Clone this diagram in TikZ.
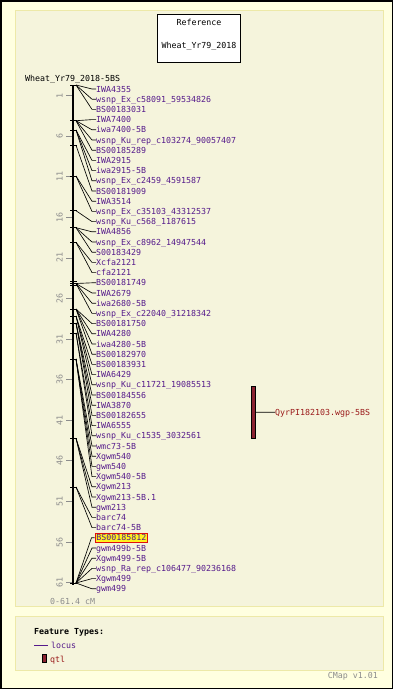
\documentclass[tikz,border=0pt]{standalone}
\usepackage{fontspec}
\newfontfamily\mono{DejaVu Sans Mono}
\definecolor{bgout}{HTML}{FFFFE0}
\definecolor{bgpanel}{HTML}{F5F4DC}
\definecolor{panelline}{HTML}{EDE9A8}
\definecolor{locuscol}{HTML}{551A8B}
\definecolor{qtlcol}{HTML}{8B2332}
\definecolor{qtltext}{HTML}{9B1B1B}
\definecolor{scalegray}{HTML}{8C8C8C}
\definecolor{hlyellow}{HTML}{FFF21E}
\definecolor{hlred}{HTML}{E01010}
\begin{document}
\begin{tikzpicture}[x=1pt,y=-1pt,
  txt/.style={font=\mono\fontsize{8.3}{8.3}\selectfont, inner sep=0pt, text height=6pt, text depth=0pt},
  lbl/.style={txt, text=locuscol, anchor=west},
  conn/.style={draw=black, line width=0.65pt},
  mtick/.style={draw=black, line width=1pt},
  scaletick/.style={draw=scalegray, line width=0.8pt},
  scalelbl/.style={txt, text=scalegray, rotate=90},
  panel/.style={fill=bgpanel, draw=panelline, line width=1pt}]
\useasboundingbox (0,0) rectangle (393,689);
% backgrounds
\fill[bgout] (0,0) rectangle (393,689);
\draw[black, line width=1.5pt] (0.75,0.75) rectangle (392.25,688.25);
\draw[panel] (15,10) rectangle (383.3,606.7);
\draw[panel] (15,616.7) rectangle (383.3,670.7);
% title box
\node[draw=black, fill=white, line width=0.8pt, minimum width=83.4pt, minimum height=48pt, inner sep=0pt] (titlebox) at (199,38.3) {};
\node[txt, text=black] (ttl1) at (199,22.3) {Reference};
\node[txt, text=black] (ttl2) at (199,45.7) {Wheat\_Yr79\_2018};
% map title
\node[txt, text=black, anchor=west] (maptitle) at (25,78) {Wheat\_Yr79\_2018-5BS};
% axis
\coordinate (axtop) at (73,85);
\coordinate (axbot) at (73,585);
\draw[black, line width=2pt] (axtop) -- (axbot);
% scale ticks
\foreach \c in {1,6,...,61} {
  \coordinate (st\c) at (66,{87.5+8.117*\c});
  \draw[scaletick] (st\c) -- ++(6,0);
  \node[scalelbl] (s\c) at (59.5,{87.5+8.117*\c}) {\c};
}
\node[txt, text=scalegray, anchor=west] (range) at (50,601.7) {0-61.4 cM};
% marker positions
\foreach \m/\y in {A/85, B/120.7, C/130, D/145.3, E/176, F/210.7, G/227.7, H/242.3, I/283.5, J/309, K/316, L/323, M/333, N/359, P/438.3, Q/487, R/583} {
  \coordinate (m\m) at (76,\y);
  \draw[mtick] (70,\y) -- (77,\y);
}
\draw[mtick] (70,281.7) -- (77,281.7);
\draw[mtick] (70,285.2) -- (77,285.2);
% labels and connectors
\foreach \i/\t/\m in {
 1/IWA4355/A, 2/wsnp\_Ex\_c58091\_59534826/A, 3/BS00183031/A,
 4/IWA7400/B, 5/iwa7400-5B/B, 6/wsnp\_Ku\_rep\_c103274\_90057407/B, 7/BS00185289/B,
 8/IWA2915/C, 9/iwa2915-5B/C, 10/wsnp\_Ex\_c2459\_4591587/C,
 11/BS00181909/D,
 12/IWA3514/E, 13/wsnp\_Ex\_c35103\_43312537/E,
 14/wsnp\_Ku\_c568\_1187615/F,
 15/IWA4856/G, 16/wsnp\_Ex\_c8962\_14947544/G, 17/S00183429/G,
 18/Xcfa2121/H, 19/cfa2121/H,
 20/BS00181749/I, 21/IWA2679/I, 22/iwa2680-5B/I, 23/wsnp\_Ex\_c22040\_31218342/I,
 24/BS00181750/J, 25/IWA4280/J, 26/iwa4280-5B/J, 27/BS00182970/J,
 28/BS00183931/K, 29/IWA6429/K, 30/wsnp\_Ku\_c11721\_19085513/K,
 31/BS00184556/L, 32/IWA3870/L, 33/BS00182655/L,
 34/IWA6555/M, 35/wsnp\_Ku\_c1535\_3032561/M,
 36/wmc73-5B/N, 37/Xgwm540/N, 38/gwm540/N, 39/Xgwm540-5B/N,
 40/Xgwm213/P, 41/Xgwm213-5B.1/P, 42/gwm213/P,
 43/barc74/Q, 44/barc74-5B/Q,
 46/gwm499b-5B/R, 47/Xgwm499-5B/R, 48/wsnp\_Ra\_rep\_c106477\_90236168/R,
 49/Xgwm499/R, 50/gwm499/R} {
  \node[lbl] (l\i) at (96,{89+(\i-1)*10.2}) {\t};
  \draw[conn] (m\m) -- ([xshift=-4pt]l\i.west) -- (l\i.west);
}
% highlighted label
\node[lbl, fill=hlyellow, draw=hlred, line width=0.8pt, inner xsep=1.5pt, inner ysep=1.5pt] (l45) at (94.5,{89+44*10.2}) {BS00185812};
\draw[conn] (mR) -- ([xshift=-3pt]l45.west) -- (l45.west);
% QTL
\node[draw=black, fill=qtlcol, line width=0.6pt, minimum width=3.6pt, minimum height=52.3pt, inner sep=0pt] (qtl) at (253.3,412.2) {};
\node[txt, text=qtltext, anchor=west] (qtllbl) at (275,412.3) {QyrPI182103.wgp-5BS};
\draw[conn] (qtl.east) -- (qtllbl.west);
% legend
\node[txt, text=black, anchor=west] (legtitle) at (34,631.7) {\bfseries Feature Types:};
\coordinate (legl1) at (34,645);
\coordinate (legl2) at (48,645);
\draw[locuscol, line width=1pt] (legl1) -- (legl2);
\node[lbl] (leglocus) at (51,645) {locus};
\node[draw=black, fill=qtlcol, line width=0.5pt, minimum width=3.3pt, minimum height=8pt, inner sep=0pt] (legqtlbox) at (44.2,658.5) {};
\node[txt, text=qtltext, anchor=west] (legqtl) at (50,659) {qtl};
\node[txt, text=scalegray, anchor=east] (cmap) at (378,675.7) {CMap v1.01};
\end{tikzpicture}
\end{document}
